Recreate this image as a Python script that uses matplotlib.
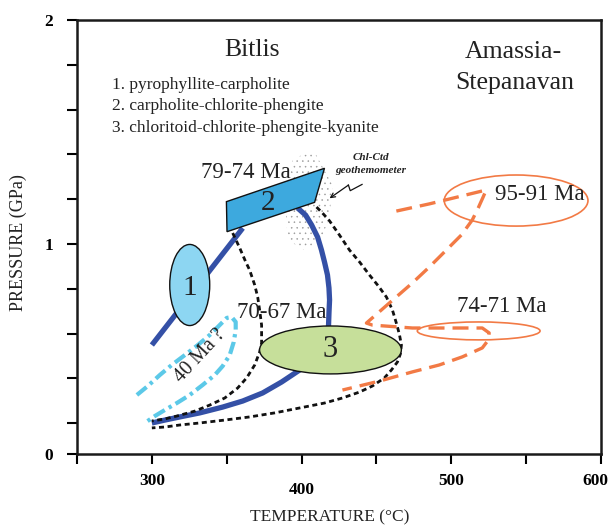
import matplotlib
matplotlib.use("Agg")
import matplotlib.pyplot as plt
import matplotlib.transforms as mtransforms
from matplotlib.patches import Ellipse, Polygon

plt.rcParams['font.family'] = ['Liberation Serif', 'DejaVu Serif']
plt.rcParams['hatch.linewidth'] = 0.35

# ---------------- data (T in °C, P in GPa) ----------------
x_ticks = [250, 300, 350, 400, 450, 500, 550, 600]
x_tick_labels = ['', '300', '', '400', '', '500', '', '600']
y_ticks = [0.0625, 0.2, 0.4, 0.6, 0.8, 1.0, 1.2, 1.4, 1.6, 1.8, 2.0]
y_tick_labels = ['0', '', '', '', '', '1', '', '', '', '', '2']

# blue path: pyrophyllite-carpholite segment
blue_a_T = [300.0, 360.7]
blue_a_P = [0.549, 1.071]
# blue path: exhumation loop through field 3
blue_b_T = [397.3, 402.7, 406.7, 410.7, 413.3, 415.3, 417.3, 418.3, 418.7, 418.3, 418.0,
            412.0, 398.7, 386.7, 374.0, 360.7, 347.3, 332.0, 318.7, 308.7, 300.0]
blue_b_P = [1.161, 1.129, 1.085, 1.031, 0.973, 0.920, 0.862, 0.804, 0.750, 0.692, 0.634,
            0.530, 0.4375, 0.384, 0.335, 0.299, 0.272, 0.246, 0.228, 0.214, 0.201]

# black dotted envelopes
dot1_T = [354.0, 358.7, 362.7, 365.3, 368.7, 370.7, 372.0, 373.3, 373.3, 372.0, 368.7,
          363.3, 357.3, 348.7, 338.7, 328.7, 316.7, 308.7, 300.0]
dot1_P = [1.049, 0.982, 0.920, 0.884, 0.817, 0.763, 0.705, 0.638, 0.558, 0.518, 0.460,
          0.402, 0.357, 0.3125, 0.281, 0.254, 0.232, 0.219, 0.210]
dot2_T = [410.0, 414.0, 418.7, 425.3, 432.0, 438.7, 445.3, 451.3, 456.7, 460.7, 463.3,
          465.3, 466.7, 466.0, 464.0, 460.0, 455.3, 447.3, 438.7, 427.3, 415.3, 398.7,
          382.0, 365.3, 348.7, 332.0, 318.7, 308.7, 300.0]
dot2_P = [1.165, 1.138, 1.103, 1.040, 0.973, 0.920, 0.862, 0.8125, 0.763, 0.705, 0.647,
          0.598, 0.549, 0.509, 0.473, 0.4375, 0.402, 0.366, 0.339, 0.3125, 0.290, 0.268,
          0.246, 0.228, 0.214, 0.201, 0.192, 0.183, 0.179]

# cyan dash-dot loop (40 Ma ?)
cyan_T = [290.0, 297.3, 305.3, 313.3, 322.0, 330.7, 338.7, 345.3, 350.0, 353.3, 356.0,
          356.0, 354.7, 352.0, 347.3, 342.0, 334.0, 325.3, 316.7, 308.7, 302.0, 295.3]
cyan_P = [0.326, 0.366, 0.415, 0.460, 0.504, 0.549, 0.594, 0.638, 0.670, 0.674, 0.652,
          0.616, 0.5625, 0.504, 0.455, 0.415, 0.371, 0.326, 0.290, 0.259, 0.232, 0.201]

# orange dashed path (Amassia-Stepanavan)
orange_T = [463.3, 485.3, 523.3, 521.3, 518.0, 514.0, 506.7, 496.7, 485.3, 474.0, 458.7,
            443.3, 447.3, 474.0, 520.7, 525.3, 524.7, 520.7, 507.3, 492.0, 474.0, 452.0, 427.3]
orange_P = [1.147, 1.179, 1.241, 1.210, 1.161, 1.107, 1.040, 0.973, 0.897, 0.826, 0.737,
            0.647, 0.638, 0.625, 0.625, 0.603, 0.571, 0.536, 0.496, 0.460, 0.429, 0.388, 0.348]

# fields: (centre T, centre P, width °C, height GPa)
field1 = (325.3, 0.817, 26.7, 0.362)
field3 = (419.3, 0.527, 94.7, 0.214)
ell_95_91 = (543.3, 1.194, 96.0, 0.228)
ell_74_71 = (518.3, 0.612, 82.0, 0.080)
field2_T = [349.8, 350.2, 408.7, 415.3]
field2_P = [1.189, 1.055, 1.186, 1.338]

# geothermometer stipple region
stip_T = [394.0, 408.7, 413.3, 420.7, 418.7, 413.3, 402.0, 390.7, 389.3, 392.0]
stip_P = [1.384, 1.411, 1.353, 1.263, 1.129, 1.018, 0.973, 1.018, 1.174, 1.286]

# zigzag arrow
zig_T = [440.4, 432.5, 431.3, 418.7]
zig_P = [1.266, 1.238, 1.263, 1.204]

legend_lines = ['1. pyrophyllite-carpholite',
                '2. carpholite-chlorite-phengite',
                '3. chloritoid-chlorite-phengite-kyanite']

# ---------------- figure ----------------
fig = plt.figure(figsize=(6.11, 5.25), dpi=100)
ax = fig.add_axes([77/611, 1-454/525, (601-77)/611, (454-20)/525])
ax.set_xlim(250, 600)
ax.set_ylim(0.0625, 2.0)

blue = '#3450A6'
orange = '#F27A45'
cyan = '#5CC9E8'

ax.add_patch(Polygon(list(zip(stip_T, stip_P)), closed=True, facecolor='none',
                     edgecolor='#9a9a9a', hatch='...', linewidth=0, zorder=1))

ax.plot(blue_a_T, blue_a_P, color=blue, lw=3.8, solid_capstyle='butt', zorder=2)
ax.plot(blue_b_T, blue_b_P, color=blue, lw=3.8, solid_capstyle='butt',
        solid_joinstyle='round', zorder=2)

ax.plot(dot1_T, dot1_P, color='#111111', lw=2.0, dashes=(1.8, 1.3), zorder=2.5)
ax.plot(dot2_T, dot2_P, color='#111111', lw=2.0, dashes=(1.8, 1.3), zorder=2.5)

ax.plot(cyan_T, cyan_P, color=cyan, lw=3.0, dashes=(3.0, 1.1, 0.8, 1.1), zorder=2.5)

for (cT, cP, w, h) in (ell_95_91, ell_74_71):
    ax.add_patch(Ellipse((cT, cP), w, h, facecolor='none', edgecolor=orange, lw=1.2, zorder=2))
ax.plot(orange_T, orange_P, color=orange, lw=2.4, dashes=(4.8, 2.4), zorder=2.6)

cT, cP, w, h = field1
ax.add_patch(Ellipse((cT, cP), w, h, facecolor='#8DD6F2', edgecolor='#111111', lw=1.0, zorder=3))
cT, cP, w, h = field3
ax.add_patch(Ellipse((cT, cP), w, h, facecolor='#C6DF9A', edgecolor='#111111', lw=1.0, zorder=3))
ax.add_patch(Polygon(list(zip(field2_T, field2_P)), closed=True, facecolor='#3DA9DE',
                     edgecolor='#111111', lw=1.0, zorder=3))

ax.plot(zig_T[:3], zig_P[:3], color='#111111', lw=0.9, zorder=4)
ax.annotate('', xy=(zig_T[3], zig_P[3]), xytext=(zig_T[2], zig_P[2]),
            arrowprops=dict(arrowstyle='->', color='#111111', lw=0.9,
                            shrinkA=0, shrinkB=0, mutation_scale=8), zorder=4)

txt = dict(color='#222222', ha='center', va='center', zorder=5)
ax.text(366.7, 1.866, 'Bitlis', fontsize=18.5, **txt)
ax.text(541.5, 1.857, 'Amassia-', fontsize=18.5, **txt)
ax.text(542.5, 1.719, 'Stepanavan', fontsize=18.5, **txt)
for i, line in enumerate(legend_lines):
    ax.text(273.3, 1.710 - i * 0.096, line, fontsize=12.5, color='#222222',
            ha='left', va='center', zorder=5)
ax.text(363.0, 1.317, '79-74 Ma', fontsize=16.5, **txt)
ax.text(387.0, 0.692, '70-67 Ma', fontsize=16.5, **txt)
ax.text(559.0, 1.219, '95-91 Ma', fontsize=16.5, **txt)
ax.text(534.0, 0.719, '74-71 Ma', fontsize=16.5, **txt)
ax.text(332.5, 0.500, '40 Ma ?', fontsize=14.5, rotation=47, rotation_mode='anchor', **txt)
ax.text(325.3, 0.804, '1', fontsize=21, **txt)
ax.text(377.3, 1.183, '2', fontsize=21, **txt)
ax.text(419.3, 0.527, '3', fontsize=22, **txt)
ax.text(446.0, 1.388, 'Chl-Ctd', fontsize=8, fontweight='bold', fontstyle='italic', **txt)
ax.text(446.0, 1.330, 'geothemometer', fontsize=8, fontweight='bold', fontstyle='italic', **txt)

# axes styling
for s in ax.spines.values():
    s.set_linewidth(1.8)
    s.set_color('#1a1a1a')
ax.set_xticks(x_ticks)
ax.set_xticklabels(x_tick_labels, fontsize=12.5, fontweight='bold')
ax.set_yticks(y_ticks)
ax.set_yticklabels(y_tick_labels, fontsize=12.5, fontweight='bold')
ax.tick_params(axis='x', direction='out', length=7, width=1.5, pad=7)
ax.tick_params(axis='y', direction='out', length=7, width=1.5, pad=10)
for lbl in ax.get_xticklabels():
    if lbl.get_text() == '400':
        lbl.set_transform(lbl.get_transform() +
                          mtransforms.ScaledTranslation(0, -9/100, fig.dpi_scale_trans))
    if lbl.get_text() == '600':
        lbl.set_transform(lbl.get_transform() +
                          mtransforms.ScaledTranslation(-6/100, 0, fig.dpi_scale_trans))

fig.text(330/611, 1-517/525, 'TEMPERATURE (\u00b0C)', fontsize=12.5, color='#222222',
         ha='center', va='center')
fig.text(18/611, 1-243/525, 'PRESSURE (GPa)', fontsize=13, color='#222222',
         ha='center', va='center', rotation=90)

fig.savefig('out.png', dpi=100)
